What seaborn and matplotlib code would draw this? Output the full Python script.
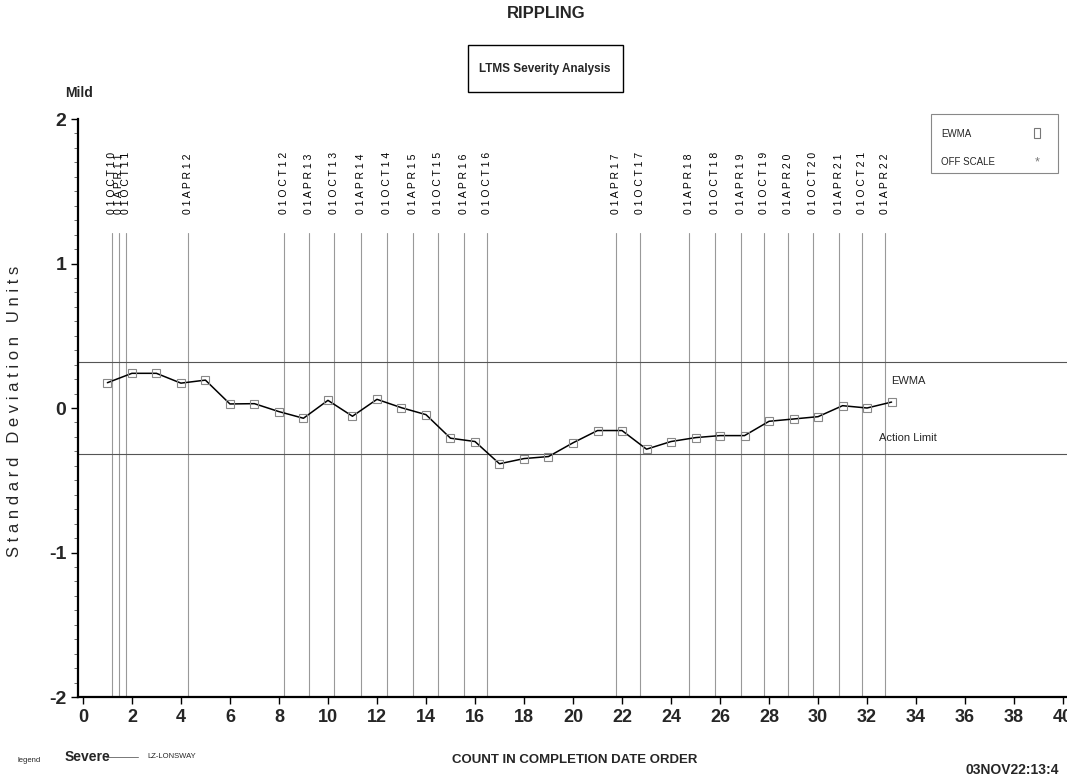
import numpy as np
import pandas as pd
import matplotlib.pyplot as plt
import matplotlib.patches as mpatches
import seaborn as sns

# EWMA values in completion-date order
count = list(range(1, 34))
ewma = [0.175, 0.24, 0.24, 0.172, 0.193, 0.028, 0.03, -0.025, -0.071, 0.053,
        -0.057, 0.06, 0.002, -0.046, -0.209, -0.232, -0.386, -0.35, -0.336, -0.241,
        -0.156, -0.156, -0.285, -0.232, -0.205, -0.191, -0.191, -0.092, -0.076, -0.06,
        0.016, 0.0, 0.041]

# date reference lines
date_pos = [1.18, 1.47, 1.76, 4.29, 8.2, 9.22, 10.24, 11.35, 12.4, 13.47, 14.5, 15.55,
            16.5, 21.76, 22.73, 24.73, 25.8, 26.86, 27.8, 28.78, 29.8, 30.86, 31.8, 32.73]
date_labels = ['01OCT10', '01APR11', '01OCT11', '01APR12', '01OCT12', '01APR13',
               '01OCT13', '01APR14', '01OCT14', '01APR15', '01OCT15', '01APR16',
               '01OCT16', '01APR17', '01OCT17', '01APR18', '01OCT18', '01APR19',
               '01OCT19', '01APR20', '01OCT20', '01APR21', '01OCT21', '01APR22']

action_limit = 0.32
x_ticks = list(range(0, 41, 2))
y_ticks = [-2, -1, 0, 1, 2]

W, H = 1067, 778


def fx(px):
    return px / W


def fy(py):
    return 1 - py / H


sns.set_style("white")
plt.rcParams['font.family'] = ['Liberation Sans', 'DejaVu Sans']

fig = plt.figure(figsize=(W / 100, H / 100), dpi=100)
ax = fig.add_axes([fx(78), fy(697), (1068 - 78) / W, (697 - 119) / H])

df = pd.DataFrame({'count': count, 'ewma': ewma})

# reference lines
for xp in date_pos:
    ax.plot([xp, xp], [-2, 1.21], color='#999999', lw=0.8, zorder=1)
for yv in (action_limit, -action_limit):
    ax.axhline(yv, color='#555555', lw=0.8, zorder=1)

sns.lineplot(data=df, x='count', y='ewma', ax=ax, color='black', lw=1.1,
             marker='s', markersize=6, markerfacecolor='none',
             markeredgecolor='#888888', markeredgewidth=0.8, zorder=3)

# date labels, letter spaced, rotated
for xp, lab in zip(date_pos, date_labels):
    ax.text(xp, 1.34, ' '.join(lab), rotation=90, ha='center', va='bottom',
            fontsize=7.5, color='black')

ax.text(33.0, 0.19, 'EWMA', fontsize=8, va='center', ha='left')
ax.text(32.5, -0.21, 'Action Limit', fontsize=8, va='center', ha='left')

ax.set_xlim(-0.2, 40.2)
ax.set_ylim(-2, 2)
ax.set_xticks(x_ticks)
ax.set_xticklabels([str(v) for v in x_ticks], fontsize=13, fontweight='bold')
ax.set_yticks(y_ticks)
ax.set_yticklabels(['-2', '-1', '0', '1', '2'], fontsize=14, fontweight='bold')
ax.set_yticks(np.arange(-2, 2.01, 0.1), minor=True)
ax.tick_params(axis='both', which='major', direction='out', length=5, width=1,
               color='black', left=True, bottom=True)
ax.tick_params(axis='y', which='minor', direction='out', length=3, width=0.6,
               color='#555555', left=True)
ax.set_xlabel('')
ax.set_ylabel('')
for side in ('top', 'right'):
    ax.spines[side].set_visible(False)
for side in ('left', 'bottom'):
    ax.spines[side].set_color('black')
    ax.spines[side].set_linewidth(1.6)

# titles
fig.text(fx(546), fy(14), 'RIPPLING', ha='center', va='center', fontsize=12,
         fontweight='bold')
fig.add_artist(mpatches.Rectangle((fx(468), fy(92)), fx(623 - 468), (92 - 45) / H,
                                  transform=fig.transFigure, fill=False,
                                  edgecolor='black', lw=1))
fig.text(fx(545), fy(69), 'LTMS Severity Analysis', ha='center', va='center',
         fontsize=8.5, fontweight='bold')
fig.text(fx(65), fy(93), 'Mild', ha='left', va='center', fontsize=10,
         fontweight='bold')
fig.text(fx(15), fy(411), 'S t a n d a r d   D e v i a t i o n   U n i t s',
         rotation=90, ha='center', va='center', fontsize=12)

# legend box
fig.add_artist(mpatches.Rectangle((fx(931), fy(173)), fx(1058 - 931), (173 - 114) / H,
                                  transform=fig.transFigure, fill=False,
                                  edgecolor='#888888', lw=0.8))
fig.text(fx(941), fy(134), 'EWMA', ha='left', va='center', fontsize=7)
fig.text(fx(941), fy(162), 'OFF SCALE', ha='left', va='center', fontsize=7)
fig.add_artist(mpatches.Rectangle((fx(1034), fy(138)), fx(6), 10 / H,
                                  transform=fig.transFigure, fill=False,
                                  edgecolor='#777777', lw=0.8))
fig.text(fx(1037), fy(162), '*', ha='center', va='center', fontsize=9, color='#777777')

# bottom texts
fig.text(fx(17), fy(760), 'legend', ha='left', va='center', fontsize=5.5)
fig.text(fx(65), fy(757), 'Severe', ha='left', va='center', fontsize=10,
         fontweight='bold')
fig.add_artist(plt.Line2D([fx(106), fx(138)], [fy(757), fy(757)],
                          transform=fig.transFigure, color='#777777', lw=0.7))
fig.text(fx(147), fy(757), 'LZ-LONSWAY', ha='left', va='center', fontsize=5.5)
fig.text(fx(575), fy(760), 'COUNT IN COMPLETION DATE ORDER', ha='center',
         va='center', fontsize=9.5, fontweight='bold')
fig.text(fx(965), fy(770), '03NOV22:13:4', ha='left', va='center', fontsize=10,
         fontweight='bold')

fig.savefig('out.png', dpi=100)
